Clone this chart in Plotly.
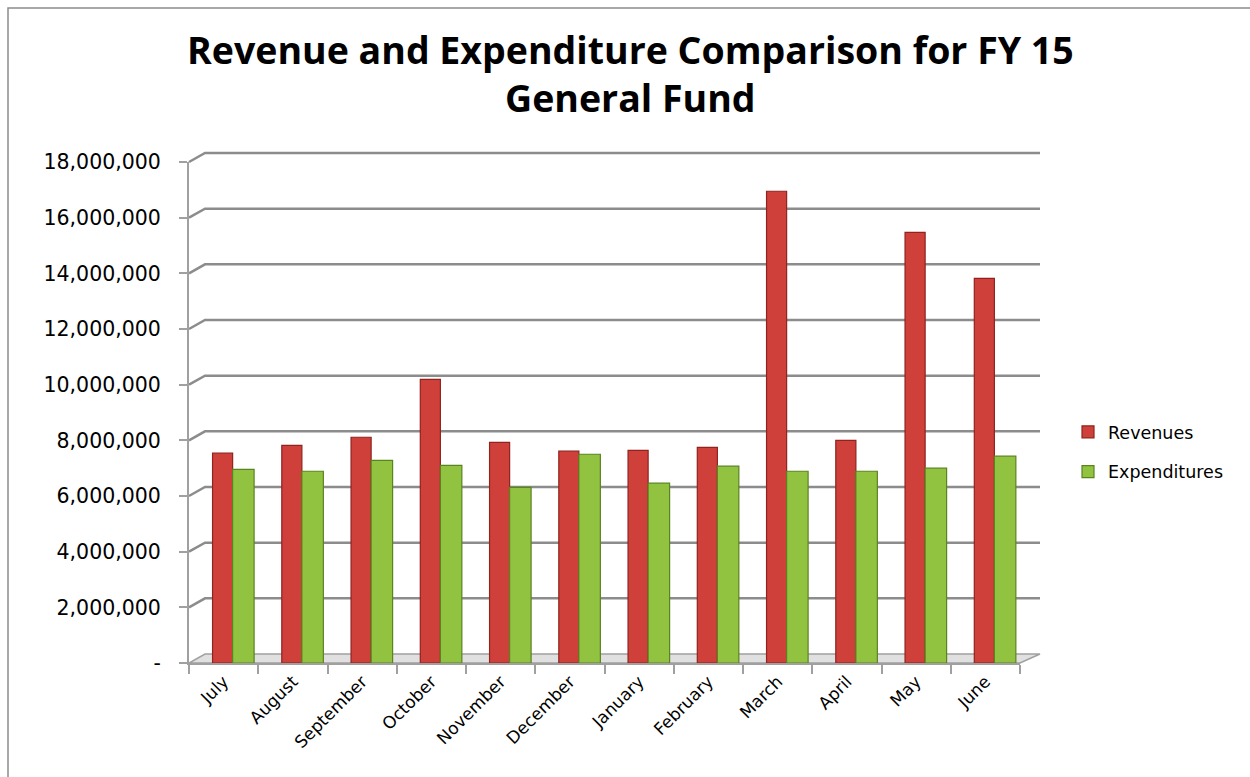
import plotly.graph_objects as go

months = ["July", "August", "September", "October", "November", "December",
          "January", "February", "March", "April", "May", "June"]
revenues = [7540000, 7820000, 8110000, 10190000, 7930000, 7610000,
            7640000, 7750000, 16950000, 8000000, 15470000, 13820000]
expenditures = [6960000, 6890000, 7280000, 7100000, 6310000, 7500000,
                6460000, 7070000, 6890000, 6890000, 7000000, 7430000]
tick_vals = [0, 2000000, 4000000, 6000000, 8000000, 10000000,
             12000000, 14000000, 16000000, 18000000]
tick_text = ["-", "2,000,000", "4,000,000", "6,000,000", "8,000,000", "10,000,000",
             "12,000,000", "14,000,000", "16,000,000", "18,000,000"]
title_lines = ["Revenue and Expenditure Comparison for FY 15", "General Fund"]

W, H = 1250, 777
L, R, T, B = 189, 230, 162, 114
PW, PH = W - L - R, H - T - B
YMAX = 18000000

def px_x(px):
    return (px - L) / PW

def dy(pix):
    return pix / PH

fig = go.Figure()
fig.add_trace(go.Bar(
    x=months, y=revenues, name="Revenues",
    offset=-0.16, width=0.29,
    marker=dict(color="#d0403a", line=dict(color="#8e231f", width=1.2)),
    legendgroup="r",
))
fig.add_trace(go.Bar(
    x=months, y=expenditures, name="Expenditures",
    offset=0.13, width=0.31,
    marker=dict(color="#92c340", line=dict(color="#5a8420", width=1.2)),
    legendgroup="e",
))

shapes = []
back_dx = px_x(205)
back_dy = dy(9)
end_x = px_x(1040)
grid_col = "#8c8c8c"
# floor
shapes.append(dict(type="path", xref="paper", yref="paper",
                   path=f"M 0 0 L 1 0 L {end_x} {back_dy} L {back_dx} {back_dy} Z",
                   fillcolor="#e0e0e0", line=dict(color="#a0a0a0", width=1.5),
                   layer="below"))
for v in tick_vals[1:]:
    yv = v / YMAX
    shapes.append(dict(type="path", xref="paper", yref="paper",
                       path=f"M 0 {yv} L {back_dx} {yv + back_dy} L {end_x} {yv + back_dy}",
                       line=dict(color=grid_col, width=2.5), layer="below"))
# outer frame
shapes.append(dict(type="rect", xref="paper", yref="paper",
                   x0=px_x(8), x1=px_x(1300), y0=-1.0, y1=(663 - 8) / PH,
                   line=dict(color="#8c8c8c", width=1.5), fillcolor="rgba(0,0,0,0)",
                   layer="below"))

annotations = []
for line, ypx in zip(title_lines, [49, 98]):
    annotations.append(dict(text=f"<b>{line}</b>", xref="paper", yref="paper",
                            x=px_x(630), y=(663 - ypx) / PH, xanchor="center", yanchor="middle",
                            showarrow=False,
                            font=dict(family="Open Sans", size=37.5, color="black")))

fig.update_layout(
    width=W, height=H,
    margin=dict(l=L, r=R, t=T, b=B, pad=0),
    paper_bgcolor="white", plot_bgcolor="rgba(0,0,0,0)",
    barmode="overlay",
    font=dict(family="DejaVu Sans", color="black"),
    showlegend=True,
    legend=dict(x=px_x(1068), xanchor="left", y=(663 - 452) / PH, yanchor="middle",
                font=dict(size=17.5, family="DejaVu Sans", color="black"),
                tracegroupgap=14, itemwidth=30, bgcolor="rgba(0,0,0,0)"),
    shapes=shapes,
    annotations=annotations,
)
fig.update_xaxes(
    type="category", categoryorder="array", categoryarray=months,
    showline=True, linecolor="#a0a0a0", linewidth=2,
    ticks="outside", tickson="boundaries", ticklen=9, tickcolor="#a0a0a0", tickwidth=2,
    tickangle=-45, tickfont=dict(size=17, family="DejaVu Sans", color="black"),
    showgrid=False, zeroline=False, range=[-0.5, 11.5],
)
fig.update_yaxes(
    range=[0, YMAX], tickvals=tick_vals, ticktext=tick_text,
    showline=True, linecolor="#a0a0a0", linewidth=2,
    ticks="outside", ticklen=8, tickcolor="#a0a0a0", tickwidth=2,
    ticklabelstandoff=14,
    tickfont=dict(size=20.5, family="DejaVu Sans", color="black"),
    showgrid=False, zeroline=False,
)

fig.write_html("out.html")
